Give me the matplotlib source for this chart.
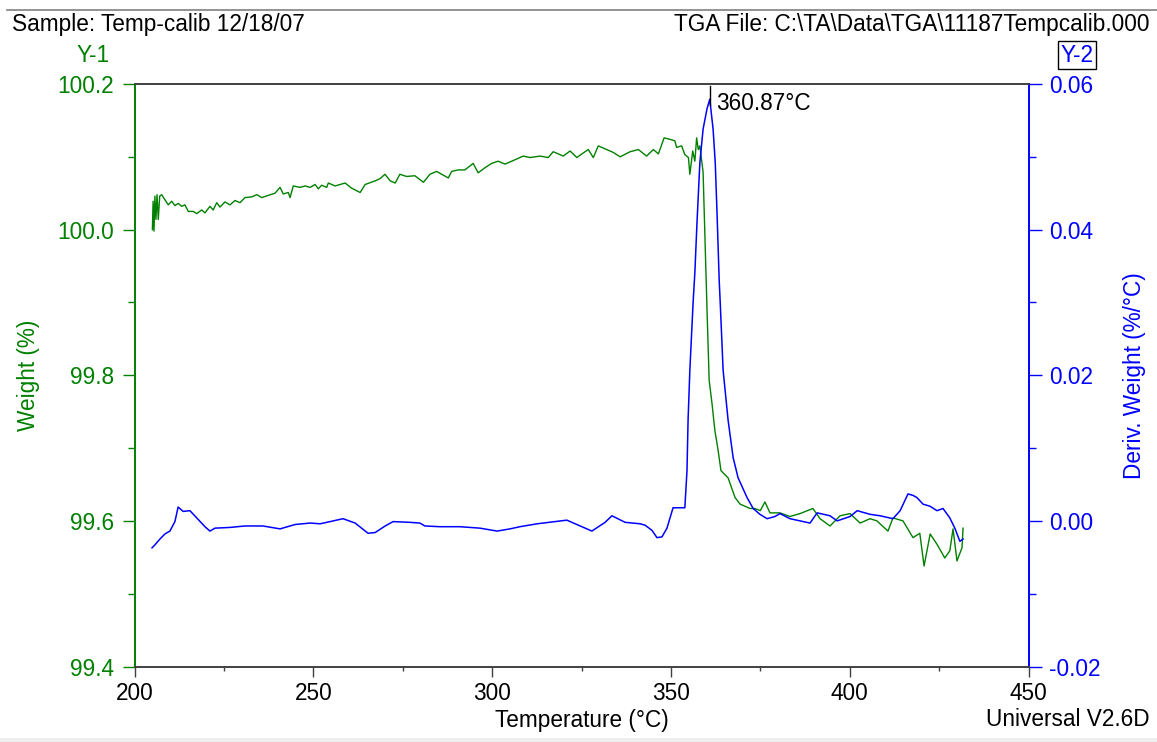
import matplotlib
matplotlib.use("Agg")
import matplotlib.pyplot as plt
from matplotlib.ticker import MultipleLocator
from matplotlib.patches import Rectangle
from matplotlib.lines import Line2D

plt.rcParams['font.family'] = ['Liberation Sans', 'DejaVu Sans']

# ---- data ----
weight_T = [205.0, 205.2, 205.45, 205.7, 206.0, 206.3, 206.65, 207.05, 207.6, 208.5,
            209.45, 210.4, 211.3, 212.25, 213.2, 214.1, 215.05, 216.45, 217.4, 218.8,
            219.7, 221.1, 222.0, 223.0, 223.9, 225.3, 226.7, 228.1, 229.5, 230.9,
            232.8, 234.2, 235.6, 237.4, 239.3, 240.7, 241.6, 243.0, 243.5, 244.4,
            246.3, 247.7, 249.1, 250.5, 251.4, 252.35, 253.75, 254.2, 256.1, 258.9,
            260.7, 263.1, 264.5, 267.3, 268.65, 270.05, 271.5, 272.9, 274.2, 276.1,
            278.4, 280.8, 282.6, 284.5, 285.9, 287.75, 288.7, 290.5, 292.4, 294.7,
            296.1, 298.0, 299.9, 301.7, 303.6, 305.5, 308.7, 310.6, 313.4, 315.7,
            317.1, 319.9, 321.8, 323.7, 325.1, 326.9, 328.3, 329.7, 332.0, 333.9,
            335.8, 338.6, 340.9, 343.2, 345.1, 346.5, 348.1, 349.75, 351.1, 351.6,
            353.0, 353.9, 354.9, 355.3, 356.1, 356.7, 357.2, 357.65, 358.1, 359.0,
            359.8, 360.1, 360.4, 360.7, 361.5, 362.3, 363.2, 364.0, 366.0, 367.95,
            369.35, 370.75, 372.15, 373.5, 375.0, 376.3, 377.7, 380.5, 383.3, 386.1,
            389.7, 391.7, 394.5, 397.3, 400.1, 402.9, 405.7, 407.6, 410.7, 412.1,
            414.9, 417.7, 419.6, 420.8, 422.5, 424.4, 426.6, 428.0, 428.9, 430.0,
            431.4, 431.7]
weight_pct = [100.000, 100.039, 99.998, 100.046, 100.014, 100.048, 100.014, 100.046, 100.048, 100.041,
              100.034, 100.039, 100.033, 100.036, 100.032, 100.034, 100.025, 100.025, 100.022, 100.027,
              100.023, 100.032, 100.027, 100.037, 100.031, 100.038, 100.034, 100.040, 100.037, 100.044,
              100.045, 100.048, 100.044, 100.047, 100.050, 100.058, 100.049, 100.051, 100.044, 100.060,
              100.058, 100.060, 100.058, 100.062, 100.056, 100.061, 100.058, 100.064, 100.060, 100.064,
              100.057, 100.051, 100.062, 100.067, 100.070, 100.076, 100.067, 100.064, 100.076, 100.073,
              100.074, 100.065, 100.076, 100.080, 100.076, 100.071, 100.080, 100.082, 100.082, 100.091,
              100.078, 100.085, 100.091, 100.094, 100.090, 100.094, 100.101, 100.099, 100.101, 100.099,
              100.107, 100.101, 100.108, 100.099, 100.104, 100.110, 100.099, 100.115, 100.110, 100.106,
              100.100, 100.107, 100.110, 100.101, 100.110, 100.104, 100.126, 100.124, 100.122, 100.113,
              100.115, 100.103, 100.099, 100.076, 100.108, 100.094, 100.126, 100.110, 100.115, 100.079,
              99.945, 99.890, 99.839, 99.793, 99.761, 99.724, 99.697, 99.669, 99.659, 99.632,
              99.623, 99.620, 99.617, 99.617, 99.614, 99.626, 99.611, 99.611, 99.606, 99.610,
              99.617, 99.603, 99.593, 99.607, 99.610, 99.597, 99.603, 99.600, 99.586, 99.604,
              99.600, 99.577, 99.583, 99.538, 99.582, 99.568, 99.549, 99.559, 99.589, 99.545,
              99.563, 99.590]

deriv_T = [204.9, 205.7, 207.1, 208.5, 209.9, 211.3, 212.2, 213.6, 215.5, 217.8,
           219.7, 221.1, 222.5, 226.7, 230.9, 235.9, 240.7, 244.9, 249.1, 251.9,
           254.7, 258.3, 261.7, 265.3, 267.3, 270.1, 272.3, 277.0, 279.8, 281.2,
           285.4, 291.0, 296.6, 301.4, 305.0, 307.8, 312.6, 320.9, 325.1, 327.9,
           331.6, 333.5, 337.2, 341.4, 342.8, 344.7, 346.1, 347.5, 348.9, 350.6,
           352.5, 353.9, 354.5, 354.8, 355.3, 356.2, 356.7, 357.3, 358.1, 359.0,
           360.1, 360.87, 361.8, 362.4, 362.9, 363.5, 363.8, 364.6, 366.0, 367.4,
           368.8, 371.3, 373.0, 374.9, 376.9, 379.1, 380.5, 383.3, 386.1, 388.9,
           390.9, 394.5, 396.5, 400.1, 402.1, 405.7, 408.5, 412.1, 414.1, 416.3,
           417.7, 418.8, 420.5, 422.5, 424.4, 426.1, 428.0, 429.4, 430.8, 431.7]
deriv_val = [-0.0037, -0.0033, -0.0025, -0.0018, -0.0014, -0.0001, 0.0019, 0.0013, 0.0014, 0.0002,
             -0.0008, -0.0014, -0.0010, -0.0009, -0.0007, -0.0007, -0.0011, -0.0005, -0.0003, -0.0004,
             -0.0001, 0.0003, -0.0003, -0.0017, -0.0016, -0.0007, -0.0001, -0.0002, -0.0003, -0.0007,
             -0.0008, -0.0008, -0.0010, -0.0014, -0.0011, -0.0008, -0.0004, 0.0001, -0.0008, -0.0014,
             -0.0002, 0.0007, -0.0002, -0.0004, -0.0006, -0.0013, -0.0023, -0.0022, -0.0010, 0.0018,
             0.0018, 0.0018, 0.0069, 0.0138, 0.0207, 0.0299, 0.0341, 0.0410, 0.0492, 0.0538,
             0.0566, 0.0579, 0.0538, 0.0492, 0.0423, 0.0331, 0.0299, 0.0207, 0.0138, 0.0087,
             0.0059, 0.0032, 0.0017, 0.0009, 0.0003, 0.0006, 0.0010, 0.0003, 0.0000, -0.0003,
             0.0011, 0.0007, 0.0000, 0.0006, 0.0014, 0.0009, 0.0007, 0.0003, 0.0014, 0.0037,
             0.0035, 0.0032, 0.0023, 0.0020, 0.0014, 0.0017, 0.0004, -0.0010, -0.0028, -0.0025]

peak_T = 360.87
peak_label = "360.87°C"

x_ticks = [200, 250, 300, 350, 400, 450]
y1_ticks = [99.4, 99.6, 99.8, 100.0, 100.2]
y2_ticks = [-0.02, 0.00, 0.02, 0.04, 0.06]

GREEN = '#008000'
BLUE = '#0000FF'
W, H = 1157, 742

fig = plt.figure(figsize=(W / 100, H / 100), dpi=100)
L, R, T, B = 134.5, 1028.5, 84, 666.5
ax1 = fig.add_axes([L / W, 1 - B / H, (R - L) / W, (B - T) / H])
ax2 = ax1.twinx()

ax1.plot(weight_T, weight_pct, color=GREEN, lw=1.0)
ax2.plot(deriv_T, deriv_val, color=BLUE, lw=1.1)

ax1.set_xlim(200, 450)
ax1.set_ylim(99.4, 100.2)
ax2.set_ylim(-0.02, 0.06)

ax1.set_xticks(x_ticks)
ax1.set_xticklabels([str(v) for v in x_ticks])
ax1.xaxis.set_minor_locator(MultipleLocator(25))
ax1.set_yticks(y1_ticks)
ax1.set_yticklabels([f"{v:.1f}" for v in y1_ticks])
ax1.yaxis.set_minor_locator(MultipleLocator(0.1))
ax2.set_yticks(y2_ticks)
ax2.set_yticklabels([f"{v:.2f}" for v in y2_ticks])
ax2.yaxis.set_minor_locator(MultipleLocator(0.01))

fs = 16.3
ax1.tick_params(axis='x', which='major', direction='out', length=7, width=1,
                color='#404040', labelsize=fs, pad=4, labelcolor='black')
ax1.tick_params(axis='x', which='minor', direction='out', length=3, width=1, color='#404040')
ax1.tick_params(axis='y', which='major', direction='out', length=9, width=1,
                color=GREEN, labelcolor=GREEN, labelsize=fs, pad=6)
ax1.tick_params(axis='y', which='minor', direction='out', length=5, width=1, color=GREEN)
ax2.tick_params(axis='y', which='major', direction='out', length=9, width=1,
                color=BLUE, labelcolor=BLUE, labelsize=fs, pad=6)
ax2.tick_params(axis='y', which='minor', direction='out', length=5, width=1, color=BLUE)

for ax in (ax1, ax2):
    ax.spines['left'].set_color(GREEN)
    ax.spines['right'].set_color(BLUE)
    ax.spines['top'].set_color('#404040')
    ax.spines['bottom'].set_color('#404040')
    for s in ax.spines.values():
        s.set_linewidth(1.2)

ax1.set_xlabel("Temperature (°C)", fontsize=fs, labelpad=3)
ax1.set_ylabel("Weight (%)", fontsize=fs, color=GREEN, labelpad=12)
ax2.set_ylabel("Deriv. Weight (%/°C)", fontsize=fs, color=BLUE, labelpad=16)

# peak marker
ax2.plot([peak_T, peak_T], [0.0571, 0.0597], color='black', lw=1.0)
ax2.text(peak_T + 1.9, 0.0573, peak_label, fontsize=fs, color='black', va='center', ha='left')

# header / footer text
fig.text(12 / W, 1 - 25 / H, "Sample: Temp-calib 12/18/07", fontsize=fs, ha='left', va='center')
fig.text(1150 / W, 1 - 25 / H, "TGA File: C:\\TA\\Data\\TGA\\11187Tempcalib.000",
         fontsize=fs, ha='right', va='center')
fig.text(93 / W, 1 - 55 / H, "Y-1", fontsize=fs, ha='center', va='center', color=GREEN)
fig.text(1077 / W, 1 - 55 / H, "Y-2", fontsize=fs, ha='center', va='center', color=BLUE,
         bbox=dict(boxstyle='square,pad=0.12', fc='white', ec='black', lw=1))
fig.text(1150 / W, 1 - 719 / H, "Universal V2.6D", fontsize=fs, ha='right', va='center')

# header rule and bottom band
fig.add_artist(Line2D([7 / W, 1], [1 - 10 / H, 1 - 10 / H], color='#808080', lw=1.2,
                      transform=fig.transFigure))
fig.add_artist(Rectangle((0, 0), 1, 4 / H, transform=fig.transFigure,
                         facecolor='#EEEEEE', edgecolor='none'))

fig.savefig("out.png", dpi=100)
